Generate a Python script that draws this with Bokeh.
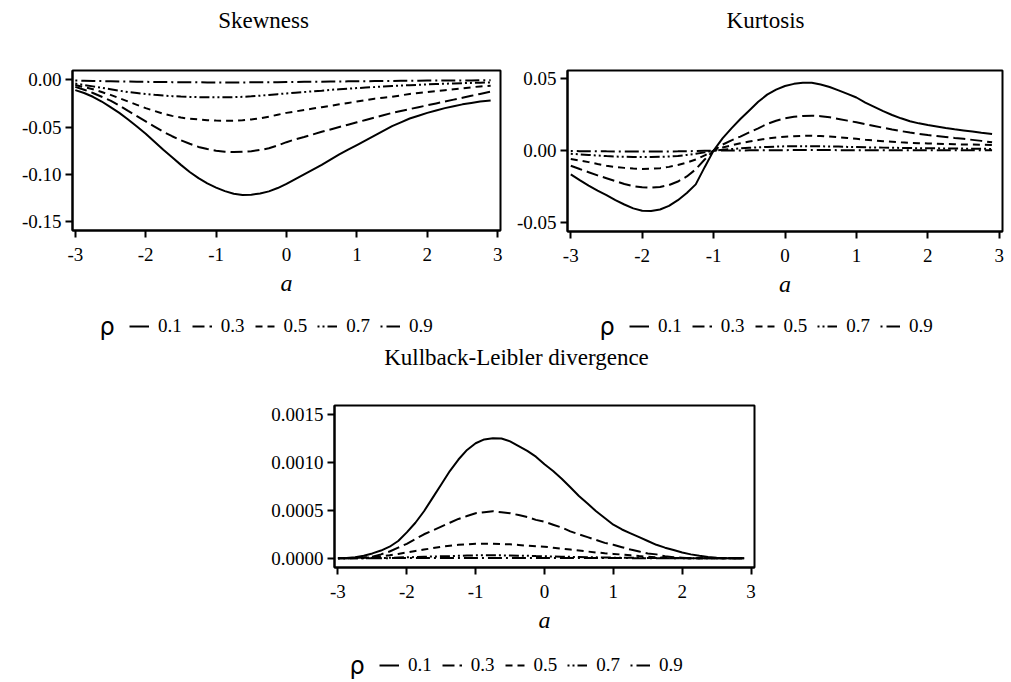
from bokeh.plotting import figure
from bokeh.models import Range1d, Legend, LegendItem, FixedTicker, NumeralTickFormatter, Label
from bokeh.layouts import column, row
from bokeh.embed import file_html
from bokeh.resources import INLINE

# ---------------- data ----------------
a_vals = [-3, -2.875, -2.75, -2.625, -2.5, -2.375, -2.25, -2.125, -2, -1.875, -1.75, -1.625,
          -1.5, -1.375, -1.25, -1.125, -1, -0.875, -0.75, -0.625, -0.5, -0.375, -0.25, -0.125,
          0, 0.125, 0.25, 0.375, 0.5, 0.625, 0.75, 0.875, 1, 1.125, 1.25, 1.375,
          1.5, 1.625, 1.75, 1.875, 2, 2.125, 2.25, 2.375, 2.5, 2.625, 2.75, 2.9]
rho_symbol = "\u03c1"
rho_labels = ["0.1", "0.3", "0.5", "0.7", "0.9"]
x_ticks = [-3, -2, -1, 0, 1, 2, 3]
titles = ["Skewness", "Kurtosis", "Kullback-Leibler divergence"]

skew_01 = [-0.011, -0.014, -0.018, -0.023, -0.029, -0.035, -0.042, -0.0495, -0.057, -0.0655, -0.074, -0.082,
           -0.090, -0.0975, -0.104, -0.1095, -0.114, -0.1178, -0.1205, -0.1218, -0.1215, -0.1202, -0.118, -0.1145,
           -0.110, -0.105, -0.100, -0.095, -0.090, -0.0845, -0.079, -0.074, -0.069, -0.064, -0.059, -0.054,
           -0.049, -0.045, -0.041, -0.038, -0.035, -0.0325, -0.030, -0.028, -0.026, -0.0245, -0.023, -0.022]
skew_03 = [-0.0075, -0.0105, -0.014, -0.018, -0.022, -0.0272, -0.033, -0.0385, -0.044, -0.0495, -0.055, -0.0597,
           -0.064, -0.0677, -0.071, -0.0733, -0.075, -0.0761, -0.0765, -0.0762, -0.0755, -0.0742, -0.0725, -0.0695,
           -0.066, -0.063, -0.0605, -0.0578, -0.055, -0.0525, -0.050, -0.0475, -0.045, -0.0425, -0.040, -0.0375,
           -0.035, -0.033, -0.031, -0.029, -0.027, -0.025, -0.023, -0.021, -0.019, -0.017, -0.015, -0.0126]
skew_05 = [-0.0056, -0.0078, -0.010, -0.013, -0.016, -0.0195, -0.023, -0.0265, -0.030, -0.033, -0.036, -0.0382,
           -0.040, -0.0412, -0.042, -0.0428, -0.0432, -0.0434, -0.0434, -0.0429, -0.042, -0.0407, -0.039, -0.037,
           -0.035, -0.0335, -0.032, -0.0305, -0.029, -0.0275, -0.026, -0.0245, -0.023, -0.0215, -0.020, -0.019,
           -0.018, -0.0165, -0.015, -0.014, -0.013, -0.012, -0.011, -0.010, -0.009, -0.008, -0.007, -0.0063]
skew_07 = [-0.004, -0.0055, -0.007, -0.0085, -0.010, -0.0115, -0.013, -0.014, -0.015, -0.0159, -0.0167, -0.0173,
           -0.0178, -0.0181, -0.0184, -0.0185, -0.0186, -0.0186, -0.0184, -0.018, -0.0175, -0.0168, -0.016, -0.0152,
           -0.0145, -0.0137, -0.013, -0.0122, -0.0115, -0.0107, -0.010, -0.0094, -0.0088, -0.0082, -0.0077, -0.0071,
           -0.0066, -0.0061, -0.0057, -0.0053, -0.0049, -0.0045, -0.0042, -0.0039, -0.0036, -0.0033, -0.0031, -0.0028]
skew_09 = [-0.0008, -0.0010, -0.0012, -0.0014, -0.0016, -0.0018, -0.0019, -0.0021, -0.0022, -0.0023, -0.0024, -0.0025,
           -0.0026, -0.0026, -0.0027, -0.0028, -0.0028, -0.0028, -0.0028, -0.0028, -0.0027, -0.0026, -0.0026, -0.0025,
           -0.0024, -0.0023, -0.0022, -0.0021, -0.0020, -0.0019, -0.0018, -0.0017, -0.0016, -0.0015, -0.0014, -0.0013,
           -0.0012, -0.0011, -0.0011, -0.0010, -0.0009, -0.0009, -0.0008, -0.0008, -0.0007, -0.0007, -0.0006, -0.0005]
skew_yticks = [0.0, -0.05, -0.10, -0.15]

kurt_01 = [-0.0165, -0.0205, -0.0243, -0.0278, -0.031, -0.0345, -0.0375, -0.0402, -0.0418, -0.0421, -0.041, -0.0385,
           -0.0345, -0.0295, -0.0235, -0.0115, 0.0, 0.0085, 0.0155, 0.022, 0.028, 0.034, 0.039, 0.0425,
           0.045, 0.0465, 0.0473, 0.0472, 0.046, 0.0443, 0.042, 0.0395, 0.037, 0.0335, 0.0305, 0.0275,
           0.0248, 0.0225, 0.0205, 0.019, 0.0178, 0.0168, 0.0158, 0.0149, 0.0141, 0.0133, 0.0125, 0.0116]
kurt_03 = [-0.0105, -0.0128, -0.015, -0.0172, -0.0192, -0.0212, -0.0232, -0.0247, -0.0255, -0.0258, -0.0253, -0.024,
           -0.0215, -0.018, -0.013, -0.0062, 0.0, 0.0042, 0.0072, 0.0098, 0.0127, 0.0155, 0.0186, 0.0208,
           0.0225, 0.0236, 0.0242, 0.0243, 0.024, 0.0232, 0.0221, 0.0209, 0.0197, 0.0185, 0.0172, 0.0159,
           0.0147, 0.0136, 0.0126, 0.0117, 0.0109, 0.0102, 0.0095, 0.0088, 0.0082, 0.0075, 0.0068, 0.0058]
kurt_05 = [-0.0058, -0.0069, -0.008, -0.0093, -0.0105, -0.0114, -0.012, -0.0125, -0.0127, -0.0126, -0.0122, -0.0113,
           -0.010, -0.0083, -0.0062, -0.0033, 0.0, 0.0022, 0.0037, 0.0051, 0.0063, 0.0074, 0.0084, 0.0092,
           0.0097, 0.0101, 0.0103, 0.0104, 0.0102, 0.0098, 0.0093, 0.0088, 0.0082, 0.0076, 0.0071, 0.0066,
           0.0062, 0.0058, 0.0055, 0.0052, 0.0050, 0.0048, 0.0046, 0.0045, 0.0043, 0.0042, 0.0041, 0.0040]
kurt_07 = [-0.0022, -0.0026, -0.003, -0.0034, -0.0038, -0.0041, -0.0043, -0.0044, -0.0045, -0.0045, -0.0043, -0.0041,
           -0.0037, -0.003, -0.0022, -0.0012, 0.0, 0.0006, 0.0011, 0.0016, 0.0020, 0.0023, 0.0026, 0.0028,
           0.0030, 0.0031, 0.0031, 0.0031, 0.0030, 0.0029, 0.0028, 0.0026, 0.0025, 0.0023, 0.0022, 0.0021,
           0.0020, 0.0019, 0.0018, 0.0017, 0.0016, 0.0016, 0.0015, 0.0015, 0.0014, 0.0014, 0.0013, 0.0012]
kurt_09 = [-0.0003, -0.00035, -0.0004, -0.00045, -0.0005, -0.00052, -0.00055, -0.00058, -0.0006, -0.0006, -0.00055, -0.00052,
           -0.0005, -0.0004, -0.0003, -0.00015, 0.0, 0.00005, 0.0001, 0.00015, 0.0002, 0.00025, 0.0003, 0.00032,
           0.00035, 0.00038, 0.0004, 0.0004, 0.0004, 0.00038, 0.00035, 0.00032, 0.0003, 0.0003, 0.0003, 0.00028,
           0.00025, 0.00025, 0.00025, 0.00022, 0.0002, 0.0002, 0.0002, 0.0002, 0.0002, 0.0002, 0.0002, 0.0002]
kurt_yticks = [0.05, 0.0, -0.05]

kl_01 = [0.0, 0.000003, 0.00001, 0.000025, 0.00005, 0.00008, 0.00012, 0.00018, 0.00027, 0.00037, 0.00049, 0.00063,
         0.00077, 0.00091, 0.00103, 0.00113, 0.00120, 0.00124, 0.001253, 0.00125, 0.00122, 0.00117, 0.00112, 0.00106,
         0.00098, 0.00091, 0.00083, 0.00074, 0.00065, 0.00057, 0.00049, 0.00042, 0.00035, 0.000300, 0.00026, 0.00022,
         0.00018, 0.00014, 0.00011, 0.000085, 0.00006, 0.00004, 0.000025, 0.000013, 0.000004, 0.0, 0.0, 0.0]
kl_03 = [0.0, 0.0, 0.000003, 0.000008, 0.000015, 0.00004, 0.00007, 0.00011, 0.00015, 0.00020, 0.00025, 0.00029,
         0.00033, 0.00037, 0.00041, 0.00044, 0.00047, 0.00048, 0.00049, 0.00048, 0.00047, 0.00045, 0.00043, 0.00040,
         0.00038, 0.00035, 0.00032, 0.00028, 0.00025, 0.00022, 0.00019, 0.00016, 0.00014, 0.000115, 0.00009, 0.00007,
         0.00005, 0.00004, 0.00002, 0.00001, 0.000005, 0.0, 0.0, 0.0, 0.0, 0.0, 0.0, 0.0]
kl_05 = [0.0, 0.0, 0.000002, 0.000005, 0.00001, 0.00002, 0.00003, 0.000045, 0.00006, 0.000075, 0.00009, 0.000105,
         0.00012, 0.00013, 0.00014, 0.000145, 0.00015, 0.00015, 0.00015, 0.000148, 0.000145, 0.000138, 0.00013, 0.000125,
         0.00012, 0.00011, 0.00010, 0.00009, 0.00008, 0.00007, 0.00006, 0.000052, 0.000045, 0.000038, 0.00003, 0.000022,
         0.000015, 0.00001, 0.000007, 0.000004, 0.000002, 0.0, 0.0, 0.0, 0.0, 0.0, 0.0, 0.0]
kl_07 = [0.0, 0.0, 0.0, 0.0000005, 0.000001, 0.000002, 0.000004, 0.000007, 0.00001, 0.000012, 0.000015, 0.000018,
         0.00002, 0.000022, 0.000025, 0.000028, 0.00003, 0.00003, 0.00003, 0.00003, 0.000028, 0.000026, 0.000025, 0.000022,
         0.00002, 0.000018, 0.000016, 0.000014, 0.000012, 0.00001, 0.000009, 0.000007, 0.000006, 0.000005, 0.000004, 0.000003,
         0.000002, 0.0000015, 0.000001, 0.0000005, 0.0, 0.0, 0.0, 0.0, 0.0, 0.0, 0.0, 0.0]
kl_09 = [0.0, 0.0, 0.0, 0.0, 0.0, 0.0, 0.000001, 0.000001, 0.000001, 0.000001, 0.000002, 0.000002,
         0.000002, 0.000002, 0.000002, 0.000002, 0.000002, 0.000002, 0.000002, 0.000002, 0.000002, 0.000002, 0.000002, 0.000002,
         0.000002, 0.000002, 0.000002, 0.000001, 0.000001, 0.000001, 0.000001, 0.000001, 0.000001, 0.000001, 0.000001, 0.0,
         0.0, 0.0, 0.0, 0.0, 0.0, 0.0, 0.0, 0.0, 0.0, 0.0, 0.0, 0.0]
kl_yticks = [0.0, 0.0005, 0.0010, 0.0015]

skew_series = [skew_01, skew_03, skew_05, skew_07, skew_09]
kurt_series = [kurt_01, kurt_03, kurt_05, kurt_07, kurt_09]
kl_series = [kl_01, kl_03, kl_05, kl_07, kl_09]

# ---------------- styling ----------------
SERIF = "Liberation Serif"
DASHES = ["solid", "12 5", "7 5", "2 3 2 3 10 3", "2 4 14 4"]
W = 1011
Y0 = 100  # strips use pixel-like coordinates offset so no data line falls inside them


def style_lines(p, series):
    return [p.line(a_vals, ys, line_color="black", line_width=2, line_dash=dash)
            for ys, dash in zip(series, DASHES)]


def make_panel(series, xr, yr, yticks, fmt, fw, fh, bl, br, bt, bb):
    p = figure(frame_width=fw, frame_height=fh,
               x_range=Range1d(*xr), y_range=Range1d(*yr),
               min_border_left=bl, min_border_right=br,
               min_border_top=bt, min_border_bottom=bb,
               output_backend="svg", toolbar_location=None,
               background_fill_color="white", border_fill_color="white")
    p.grid.visible = False
    p.outline_line_color = "black"
    p.outline_line_width = 2
    p.outline_line_alpha = 1

    style_lines(p, series)

    for ax in (p.xaxis[0], p.yaxis[0]):
        ax.axis_line_width = 2
        ax.axis_line_color = "black"
        ax.major_tick_line_width = 2
        ax.major_tick_line_color = "black"
        ax.major_tick_in = 0
        ax.major_tick_out = 7
        ax.minor_tick_line_color = None
        ax.major_label_text_font = SERIF
        ax.major_label_text_font_size = "19px"
        ax.major_label_text_color = "black"

    p.xaxis.ticker = FixedTicker(ticks=x_ticks)
    p.xaxis.formatter = NumeralTickFormatter(format="0")
    p.xaxis.major_label_standoff = 10
    p.xaxis.axis_label = "a"
    p.xaxis.axis_label_text_font = SERIF
    p.xaxis.axis_label_text_font_style = "italic"
    p.xaxis.axis_label_text_font_size = "24px"
    p.xaxis.axis_label_text_color = "black"
    p.xaxis.axis_label_standoff = 6

    p.yaxis.ticker = FixedTicker(ticks=yticks)
    p.yaxis.formatter = NumeralTickFormatter(format=fmt)
    p.yaxis.major_label_standoff = 4
    return p


def make_strip(h):
    f = figure(width=W, height=h, x_range=Range1d(0, W), y_range=Range1d(Y0, Y0 + h),
               x_axis_type=None, y_axis_type=None,
               min_border_left=0, min_border_right=0, min_border_top=0, min_border_bottom=0,
               output_backend="svg", toolbar_location=None,
               background_fill_color="white", border_fill_color="white")
    f.grid.visible = False
    f.outline_line_color = None
    return f


def add_title(f, text, xc, y_from_top, h):
    f.add_layout(Label(x=xc, y=Y0 + h - y_from_top, text=text, text_font=SERIF,
                       text_font_size="23px", text_color="black",
                       text_align="center", text_baseline="middle"))


def add_legend(f, series, rho_x, center_from_top, h):
    rs = style_lines(f, series)   # these lie outside the strip's y-range: only the key shows
    items = [LegendItem(label=lab, renderers=[r]) for lab, r in zip(rho_labels, rs)]
    bottom = h - center_from_top - 11
    leg = Legend(items=items, orientation="horizontal", location=(rho_x + 30, bottom),
                 label_text_font=SERIF, label_text_font_size="19px", label_text_color="black",
                 label_standoff=9, spacing=10, glyph_width=20, glyph_height=20,
                 padding=0, margin=0, border_line_color=None, background_fill_alpha=0)
    f.add_layout(leg, "center")
    f.add_layout(Label(x=rho_x, y=Y0 + h - center_from_top, text=rho_symbol,
                       text_font="DejaVu Sans", text_font_size="24px", text_color="black",
                       text_align="left", text_baseline="middle"))


# top strip with the two upper titles
top = make_strip(40)
add_title(top, titles[0], 263, 20, 40)
add_title(top, titles[1], 765, 20, 40)

p1 = make_panel(skew_series, (-3.04, 3.04), (-0.1594, 0.0098), skew_yticks, "0.00",
                428, 160, 72, 8, 29, 76)
p2 = make_panel(kurt_series, (-3.046, 3.046), (-0.0563, 0.0558), kurt_yticks, "0.00",
                435, 161, 59, 9, 30, 74)

# middle strip: the two upper keys and the lower title
mid = make_strip(75)
add_legend(mid, skew_series, 99, 21, 75)
add_legend(mid, kurt_series, 599, 21, 75)
add_title(mid, titles[2], 516, 52, 75)

p3 = make_panel(kl_series, (-3.05, 3.05), (-0.000097, 0.001594), kl_yticks, "0.0000",
                420, 162, 334, 257, 25, 76)

bot = make_strip(39)
add_legend(bot, kl_series, 349, 22, 39)

layout = column(row(top), row(p1, p2), row(mid), row(p3), row(bot))
open("out.html", "w").write(file_html(layout, INLINE))
